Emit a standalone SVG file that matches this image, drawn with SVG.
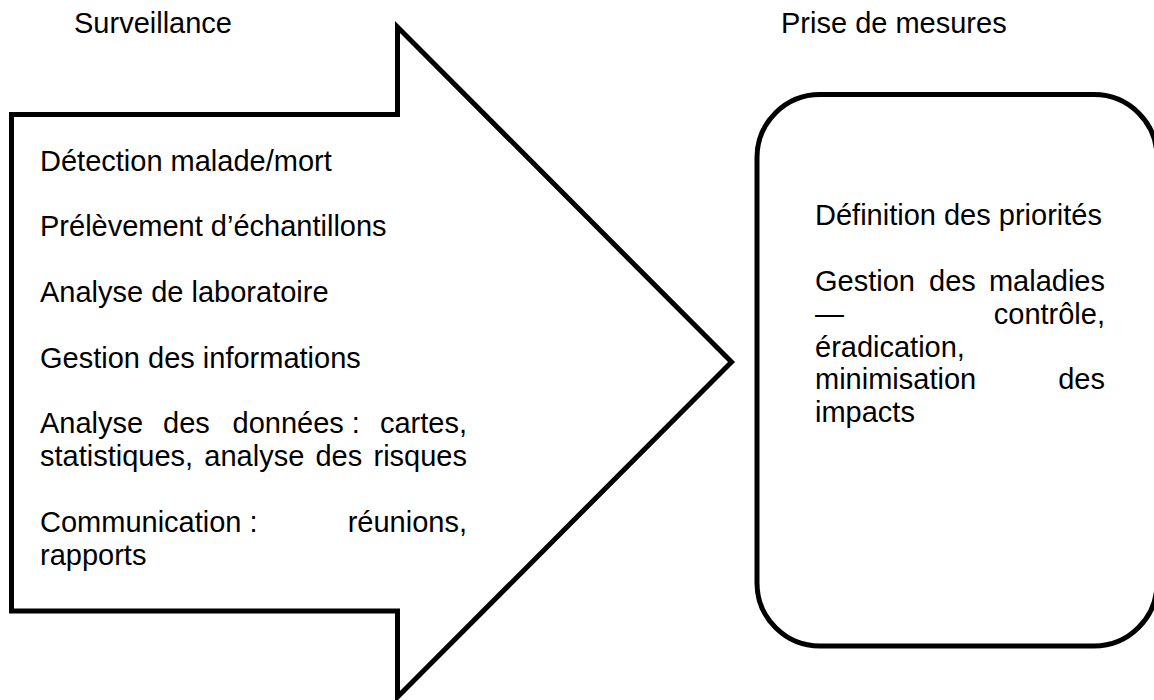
<svg xmlns="http://www.w3.org/2000/svg" width="1154" height="700" viewBox="0 0 1154 700">
<style>
.shape{fill:#fff;stroke:#000;stroke-width:5;stroke-linejoin:miter}
text{font-family:"Liberation Sans",Arial,sans-serif;font-size:29px;fill:#000}
.e{text-anchor:end}
</style>
<rect width="1154" height="700" fill="#fff"/>
<g id="heading-surveillance"><text x="74" y="33">Surveillance</text></g>
<g id="heading-prise"><text x="781" y="33">Prise de mesures</text></g>
<g id="surveillance-arrow">
<polygon class="shape" points="11.5,114.5 397.5,114.5 397.5,27 731.5,362 397.5,697 397.5,611 11.5,611"/>
<text x="40" y="170.5">Détection malade/mort</text>
<text x="40" y="236.2">Prélèvement d’échantillons</text>
<text x="40" y="301.9">Analyse de laboratoire</text>
<text x="40" y="367.6">Gestion des informations</text>
<text x="40" y="433.3">Analyse</text>
<text x="163" y="433.3">des</text>
<text x="232.5" y="433.3">données :</text>
<text class="e" x="467" y="433.3">cartes,</text>
<text x="40" y="466.2">statistiques,</text>
<text x="204.3" y="466.2">analyse</text>
<text x="315.4" y="466.2">des</text>
<text class="e" x="467" y="466.2">risques</text>
<text x="40" y="531.9">Communication :</text>
<text class="e" x="467" y="531.9">réunions,</text>
<text x="40" y="564.7">rapports</text>
</g>
<g id="prise-box">
<rect class="shape" x="757" y="94.5" width="400" height="551.5" rx="63" ry="63"/>
<text x="815" y="225">Définition des priorités</text>
<text x="815" y="290.7">Gestion</text>
<text x="929" y="290.7">des</text>
<text class="e" x="1105" y="290.7">maladies</text>
<text x="815" y="323.6">—</text>
<text class="e" x="1105" y="323.6">contrôle,</text>
<text x="815" y="356.5">éradication,</text>
<text x="815" y="389.4">minimisation</text>
<text class="e" x="1105" y="389.4">des</text>
<text x="815" y="422.3">impacts</text>
</g>
<g id="connectors"/>
</svg>
